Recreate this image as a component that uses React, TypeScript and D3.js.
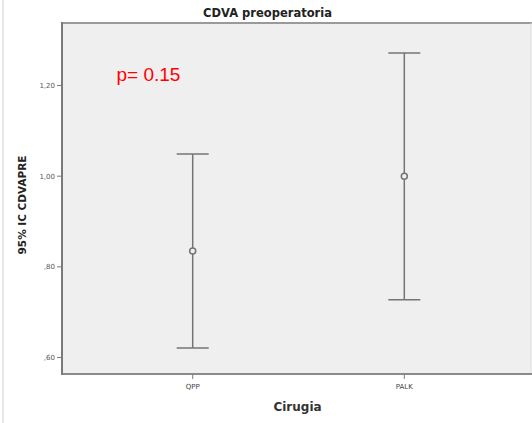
import React from "react";
import * as d3 from "d3";

const categories = ["QPP", "PALK"];
const means = [0.835, 1.0];
const lowers = [0.621, 0.7275];
const uppers = [1.049, 1.272];
const yTicks = [0.6, 0.8, 1.0, 1.2];
const yTickLabels = [",60", ",80", "1,00", "1,20"];

export default function App() {
  const W = 532, H = 423;
  const left = 62, right = 531, top = 23, bottom = 374;
  const y = d3.scaleLinear().domain([0.5635, 1.338]).range([bottom, top]);
  const x = d3.scalePoint<string>().domain(categories).range([192.7, 404.3]);
  const barColor = "#747474";
  const capW = 16;
  return (
    <svg width={W} height={H} style={{ position: "absolute", left: 0, top: 0 }}>
      <rect x={0} y={0} width={W} height={H} fill="#fff" />
      <line x1={3} x2={3} y1={0} y2={H} stroke="#d0d0d0" strokeWidth={1} />
      <text x={267.5} y={17} textAnchor="middle" fontFamily="DejaVu Sans" fontWeight="bold" fontSize={11.5} fill="#222">
        CDVA preoperatoria
      </text>
      <rect x={left} y={top} width={right - left} height={bottom - top} fill="#efefef" />
      <line x1={left} x2={W} y1={top} y2={top} stroke="#9a9a9a" strokeWidth={2} />
      <line x1={right} x2={right} y1={top} y2={bottom} stroke="#dcdcdc" strokeWidth={1} />
      <line x1={left} x2={W} y1={bottom} y2={bottom} stroke="#8a8a8a" strokeWidth={2} />
      <line x1={left} x2={left} y1={top - 1} y2={bottom + 1} stroke="#7a7a7a" strokeWidth={2} />
      {yTicks.map((t, i) => (
        <g key={t}>
          <line x1={left - 5} x2={left} y1={y(t)} y2={y(t)} stroke="#7a7a7a" strokeWidth={1} />
          <text x={left - 7} y={y(t) + 2.5} textAnchor="end" fontFamily="DejaVu Sans" fontSize={7} fill="#555">
            {yTickLabels[i]}
          </text>
        </g>
      ))}
      {categories.map((c) => (
        <g key={c}>
          <line x1={x(c)} x2={x(c)} y1={bottom} y2={bottom + 5} stroke="#7a7a7a" strokeWidth={1} />
          <text x={x(c)} y={bottom + 15} textAnchor="middle" fontFamily="DejaVu Sans" fontSize={7} fill="#444">
            {c}
          </text>
        </g>
      ))}
      {categories.map((c, i) => {
        const cx = x(c) as number;
        return (
          <g key={"e" + c} stroke={barColor} strokeWidth={1.5} fill="none">
            <line x1={cx} x2={cx} y1={y(uppers[i])} y2={y(lowers[i])} />
            <line x1={cx - capW} x2={cx + capW} y1={y(uppers[i])} y2={y(uppers[i])} />
            <line x1={cx - capW} x2={cx + capW} y1={y(lowers[i])} y2={y(lowers[i])} />
            <circle cx={cx} cy={y(means[i])} r={3} fill="#efefef" />
          </g>
        );
      })}
      <text x={116.5} y={81} fontFamily="Liberation Sans" fontSize={19} fill="#ff0000">
        p= 0.15
      </text>
      <text
        transform={`translate(26,205) rotate(-90)`}
        textAnchor="middle"
        fontFamily="DejaVu Sans"
        fontWeight="bold"
        fontSize={10.5}
        fill="#222"
      >
        95% IC CDVAPRE
      </text>
      <text x={297.5} y={411} textAnchor="middle" fontFamily="DejaVu Sans" fontWeight="bold" fontSize={12} fill="#333">
        Cirugia
      </text>
    </svg>
  );
}
